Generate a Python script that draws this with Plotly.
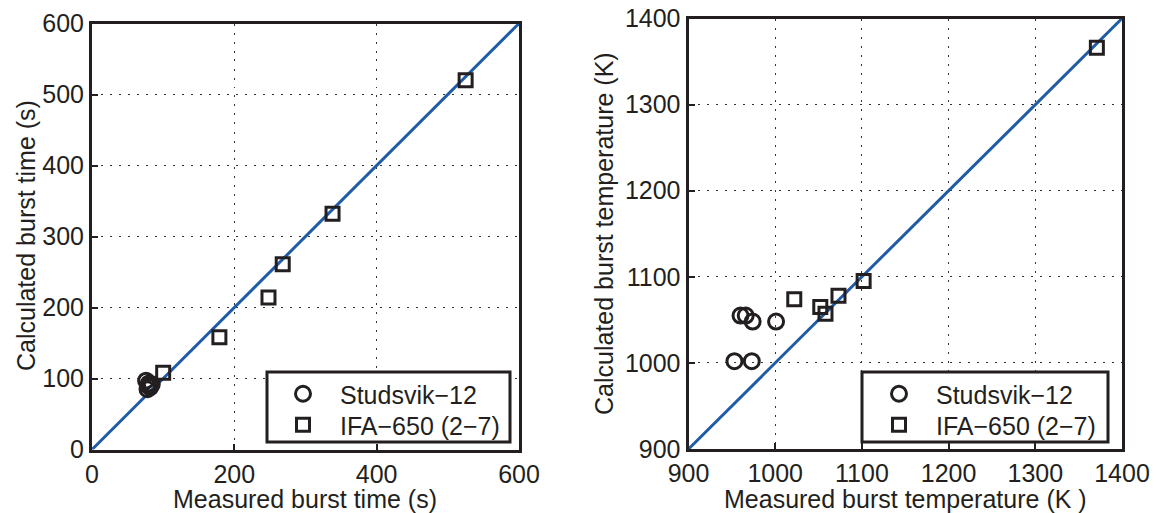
import plotly.graph_objects as go

# ---- data ----
stud_time_meas = [76, 80, 82, 78, 79, 84]
stud_time_calc = [97, 93, 88, 85, 90, 92]
ifa_time_meas = [100, 179, 248, 268, 338, 525]
ifa_time_calc = [108, 158, 214, 261, 332, 520]

stud_temp_meas = [960, 966, 974, 1001, 953, 973]
stud_temp_calc = [1055, 1055, 1048, 1048, 1002, 1002]
ifa_temp_meas = [1022, 1052, 1058, 1073, 1102, 1371]
ifa_temp_calc = [1074, 1065, 1057, 1078, 1095, 1366]

time_ticks = [0, 100, 200, 300, 400, 500, 600]
time_xticks = [0, 200, 400, 600]
temp_ticks = [900, 1000, 1100, 1200, 1300, 1400]
time_range = [0, 600]
temp_range = [900, 1400]

name_s = "Studsvik\u221212"
name_i = "IFA\u2212650 (2\u22127)"
title_x1 = "Measured burst time (s)"
title_y1 = "Calculated burst time (s)"
title_x2 = "Measured burst temperature (K )"
title_y2 = "Calculated burst temperature (K)"

BLUE = "#1f5ba6"
BLACK = "#231f20"
FONT = "Liberation Sans, Arial, sans-serif"

fig = go.Figure()

# identity lines
fig.add_trace(go.Scatter(x=time_range, y=time_range, mode="lines",
                         line=dict(color=BLUE, width=3), showlegend=False,
                         xaxis="x", yaxis="y"))
fig.add_trace(go.Scatter(x=temp_range, y=temp_range, mode="lines",
                         line=dict(color=BLUE, width=3), showlegend=False,
                         xaxis="x2", yaxis="y2"))

circ = dict(symbol="circle-open", size=15, color=BLACK, line=dict(width=3, color=BLACK))
sq = dict(symbol="square-open", size=13, color=BLACK, line=dict(width=3, color=BLACK))

fig.add_trace(go.Scatter(x=stud_time_meas, y=stud_time_calc, mode="markers",
                         marker=circ, name=name_s, xaxis="x", yaxis="y", legend="legend"))
fig.add_trace(go.Scatter(x=ifa_time_meas, y=ifa_time_calc, mode="markers",
                         marker=sq, name=name_i, xaxis="x", yaxis="y", legend="legend3"))
fig.add_trace(go.Scatter(x=stud_temp_meas, y=stud_temp_calc, mode="markers",
                         marker=circ, name=name_s, xaxis="x2", yaxis="y2", legend="legend2"))
fig.add_trace(go.Scatter(x=ifa_temp_meas, y=ifa_temp_calc, mode="markers",
                         marker=sq, name=name_i, xaxis="x2", yaxis="y2", legend="legend4"))

W, H = 1157, 513
def px(v): return v / W
def py(v): return (H - v) / H

axis_common = dict(showline=True, mirror=True, linewidth=3, linecolor=BLACK,
                   ticks="inside", ticklen=6, tickwidth=1.5, tickcolor=BLACK,
                   showgrid=True, gridcolor="#333333", gridwidth=1, griddash="2px,7px",
                   zeroline=False, automargin=False, ticklabeloverflow="allow",
                   tickfont=dict(size=25, color=BLACK, family=FONT))

TF = dict(size=25, color=BLACK, family=FONT)
LF = dict(size=25, color=BLACK, family=FONT)

def leg(x, y):
    return dict(x=px(x), y=py(y), xanchor="left", yanchor="middle",
                bgcolor="rgba(0,0,0,0)", borderwidth=0, itemwidth=64,
                font=LF, tracegroupgap=0)

fig.update_layout(
    width=W, height=H,
    margin=dict(l=0, r=0, t=0, b=0, autoexpand=False),
    paper_bgcolor="white", plot_bgcolor="white",
    font=dict(family=FONT, color=BLACK),
    xaxis=dict(domain=[px(92), px(519)], range=time_range, tickvals=time_xticks,
               anchor="y", **axis_common),
    yaxis=dict(domain=[py(449.5), py(23.5)], range=time_range, tickvals=time_ticks,
               anchor="x", **axis_common),
    xaxis2=dict(domain=[px(688.5), px(1122)], range=temp_range, tickvals=temp_ticks,
                anchor="y2", **axis_common),
    yaxis2=dict(domain=[py(449), py(18.5)], range=temp_range, tickvals=temp_ticks,
                anchor="x2", **axis_common),
    legend=leg(266, 394),
    legend3=leg(266, 425),
    legend2=leg(862, 394),
    legend4=leg(862, 425),
    shapes=[
        dict(type="rect", xref="paper", yref="paper", x0=px(267), x1=px(510), y0=py(442), y1=py(372),
             line=dict(color=BLACK, width=3), fillcolor="white", layer="above"),
        dict(type="rect", xref="paper", yref="paper", x0=px(862), x1=px(1108), y0=py(442), y1=py(372),
             line=dict(color=BLACK, width=3), fillcolor="white", layer="above"),
    ],
    annotations=[
        dict(text=title_x1, xref="paper", yref="paper", x=px(305), y=py(498.5),
             showarrow=False, font=TF, xanchor="center", yanchor="middle"),
        dict(text=title_y1, xref="paper", yref="paper", x=px(26), y=py(236),
             showarrow=False, font=TF, textangle=-90, xanchor="center", yanchor="middle"),
        dict(text=title_x2, xref="paper", yref="paper", x=px(905), y=py(498.5),
             showarrow=False, font=TF, xanchor="center", yanchor="middle"),
        dict(text=title_y2, xref="paper", yref="paper", x=px(604), y=py(234),
             showarrow=False, font=TF, textangle=-90, xanchor="center", yanchor="middle"),
    ],
)

fig.write_html("out.html", config={"displayModeBar": False},
               post_script="document.body.style.margin='0';document.body.style.padding='0';")
